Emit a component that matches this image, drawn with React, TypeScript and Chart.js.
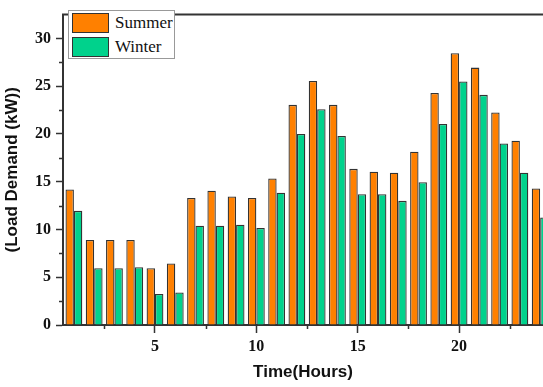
import React, { useEffect, useRef } from "react";
import { Chart, registerables } from "chart.js";

Chart.register(...registerables);

const hours = [1, 2, 3, 4, 5, 6, 7, 8, 9, 10, 11, 12, 13, 14, 15, 16, 17, 18, 19, 20, 21, 22, 23, 24];
const summer = [14.2, 8.9, 8.9, 8.9, 5.95, 6.45, 13.3, 14.05, 13.45, 13.3, 15.35, 23.05, 25.55, 23.05, 16.35, 16.05, 15.95, 18.15, 24.3, 28.45, 26.95, 22.25, 19.3, 14.3];
const winter = [11.95, 5.95, 5.95, 6.05, 3.25, 3.4, 10.4, 10.4, 10.5, 10.15, 13.85, 20.0, 22.6, 19.8, 13.7, 13.7, 13.0, 14.95, 21.05, 25.5, 24.1, 19.0, 15.95, 11.25];
const xMajorTicks = [5, 10, 15, 20];
const xMinorTicks = [2.5, 7.5, 12.5, 17.5, 22.5];
const yMajorTicks = [0, 5, 10, 15, 20, 25, 30];
const yMinorTicks = [2.5, 7.5, 12.5, 17.5, 22.5, 27.5];
const seriesNames = ["Summer", "Winter"];
const seriesColors = ["#FF8000", "#00D28C"];

const frameAndMinor = {
  id: "frameAndMinor",
  afterDraw(chart: any) {
    const { ctx, chartArea, scales } = chart;
    const x = scales.x;
    const y = scales.y;
    ctx.save();
    ctx.strokeStyle = "#333";
    ctx.lineWidth = 2;
    ctx.beginPath();
    ctx.moveTo(chartArea.left - 1, chartArea.top);
    ctx.lineTo(chartArea.right, chartArea.top);
    ctx.stroke();
    ctx.lineWidth = 1.5;
    ctx.beginPath();
    xMinorTicks.forEach((v) => {
      const px = Math.round(x.getPixelForValue(v)) + 0.5;
      ctx.moveTo(px, chartArea.bottom);
      ctx.lineTo(px, chartArea.bottom + 4);
    });
    yMinorTicks.forEach((v) => {
      const py = Math.round(y.getPixelForValue(v)) + 0.5;
      ctx.moveTo(chartArea.left, py);
      ctx.lineTo(chartArea.left - 4, py);
    });
    ctx.stroke();
    ctx.restore();
  },
};

export default function App() {
  const ref = useRef<HTMLCanvasElement>(null);
  useEffect(() => {
    const canvas = ref.current;
    if (!canvas) return;
    const tickFont = { family: "Liberation Serif", weight: "bold" as const, size: 16 };
    const titleFont = { family: "Liberation Sans", weight: "bold" as const, size: 17 };
    const chart = new Chart(canvas, {
      type: "bar",
      data: {
        datasets: [
          {
            label: seriesNames[0],
            data: hours.map((h, i) => ({ x: h, y: summer[i] })),
            backgroundColor: seriesColors[0],
            borderColor: "#333",
            borderWidth: 1.3,
            categoryPercentage: 0.83,
            barPercentage: 1,
          },
          {
            label: seriesNames[1],
            data: hours.map((h, i) => ({ x: h, y: winter[i] })),
            backgroundColor: seriesColors[1],
            borderColor: "#333",
            borderWidth: 1.3,
            categoryPercentage: 0.83,
            barPercentage: 1,
          },
        ],
      },
      options: {
        animation: false,
        responsive: false,
        layout: { padding: { top: 7, right: 0, left: 0, bottom: 0 } },
        plugins: { legend: { display: false }, tooltip: { enabled: false } },
        scales: {
          x: {
            type: "linear",
            min: 0.462,
            max: 24.14,
            offset: false,
            afterBuildTicks: (axis: any) => {
              axis.ticks = xMajorTicks.map((v) => ({ value: v }));
            },
            afterFit: (axis: any) => {
              axis.height = 62;
            },
            ticks: { font: tickFont, color: "#111", padding: 4, maxRotation: 0, autoSkip: false },
            grid: { display: true, offset: false, drawOnChartArea: false, drawTicks: true, tickLength: 8, tickColor: "#333", tickWidth: 1.5 },
            border: { display: true, color: "#333", width: 2 },
            title: { display: true, text: "Time(Hours)", font: titleFont, color: "#111", padding: { top: 0, bottom: 4 } },
          },
          y: {
            type: "linear",
            min: 0,
            max: 32.5,
            afterBuildTicks: (axis: any) => {
              axis.ticks = yMajorTicks.map((v) => ({ value: v }));
            },
            afterFit: (axis: any) => {
              axis.width = 63;
            },
            ticks: { font: tickFont, color: "#111", padding: 5 },
            grid: { display: true, offset: false, drawOnChartArea: false, drawTicks: true, tickLength: 7, tickColor: "#333", tickWidth: 1.5 },
            border: { display: true, color: "#333", width: 2 },
            title: { display: true, text: "(Load Demand (kW))", font: titleFont, color: "#111", padding: { top: 2, bottom: 0 } },
          },
        },
      },
      plugins: [frameAndMinor],
    });
    return () => chart.destroy();
  }, []);

  const legendRow = (i: number) => (
    <div style={{ display: "flex", alignItems: "center", height: 24 }}>
      <div style={{ width: 37, height: 20, background: seriesColors[i], border: "1px solid #333", boxSizing: "border-box" }} />
      <span style={{ marginLeft: 6, fontFamily: "Liberation Serif", fontSize: 17, color: "#111", lineHeight: "20px" }}>{seriesNames[i]}</span>
    </div>
  );

  return (
    <div style={{ position: "absolute", left: 0, top: 0, width: 543, height: 387, background: "#fff" }}>
      <canvas ref={ref} width={543} height={387} style={{ display: "block" }} />
      <div
        style={{
          position: "absolute",
          left: 68,
          top: 10,
          width: 107,
          height: 49,
          border: "1px solid #999",
          background: "#fff",
          boxSizing: "border-box",
          padding: "0 0 0 3px",
        }}
      >
        {legendRow(0)}
        {legendRow(1)}
      </div>
    </div>
  );
}
